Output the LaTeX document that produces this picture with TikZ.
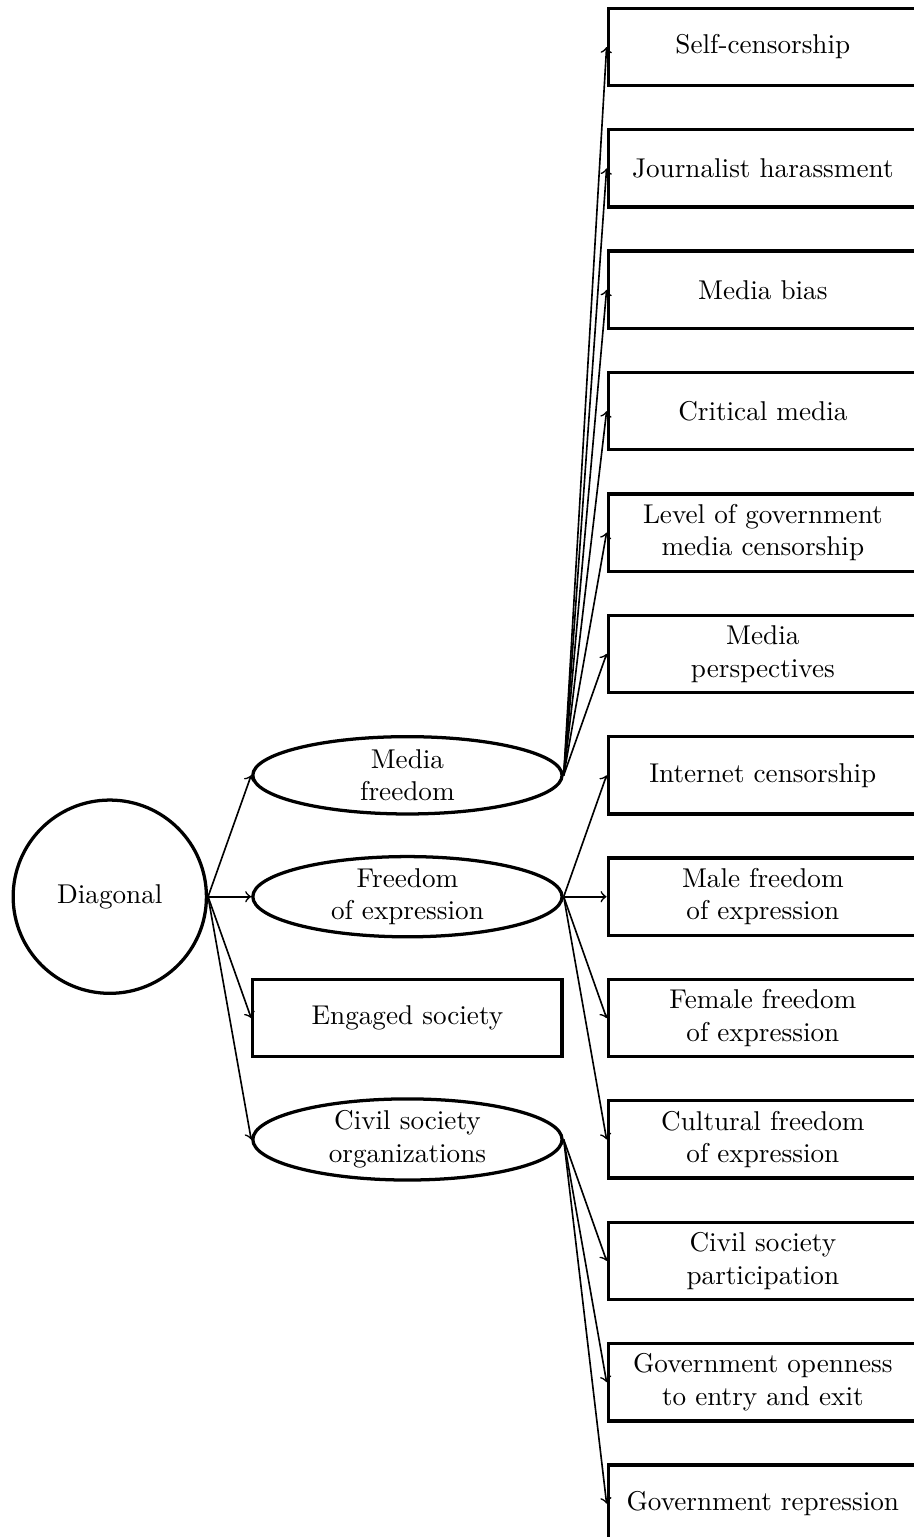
\documentclass[tikz,border=0pt]{standalone}
\usetikzlibrary{shapes,arrows}

\begin{document}
\begin{tikzpicture}
\tikzstyle{box}=[rectangle, draw, very thick, minimum width=4cm, minimum height=1cm, align=center]
\tikzstyle{oval}=[ellipse, draw, very thick, minimum width=4cm, minimum height=1cm,
                        inner sep=0pt, align=center]
\tikzstyle{arr}=[->, semithick]
\useasboundingbox (0,0) rectangle (11.82,-19.88);
\node[circle, draw, very thick, minimum size=2.5cm] (D) at (1.42,-11.598) {Diagonal};
\node[oval] (MF) at (5.27,-10.028) {Media\\freedom};
\node[oval] (FE) at (5.27,-11.598) {Freedom\\of expression};
\node[box] (ES) at (5.27,-13.168) {Engaged society};
\node[oval] (CS) at (5.27,-14.738) {Civil society\\organizations};
%right column
\node[box] (SC) at (9.867,-0.608) {Self-censorship};
\node[box] (JH) at (9.867,-2.178) {Journalist harassment};
\node[box] (MB) at (9.867,-3.748) {Media bias};
\node[box] (CM) at (9.867,-5.318) {Critical media};
\node[box] (GC) at (9.867,-6.888) {Level of government\\media censorship};
\node[box] (MP) at (9.867,-8.458) {Media\\perspectives};
\node[box] (IC) at (9.867,-10.028) {Internet censorship};
\node[box] (MA) at (9.867,-11.598) {Male freedom\\of expression};
\node[box] (FM) at (9.867,-13.168) {Female freedom\\of expression};
\node[box] (CF) at (9.867,-14.738) {Cultural freedom\\of expression};
\node[box] (CP) at (9.867,-16.308) {Civil society\\participation};
\node[box] (GO) at (9.867,-17.878) {Government openness\\to entry and exit};
\node[box] (GR) at (9.867,-19.448) {Government repression};
\foreach \i/\j in {D/MF,D/FE,D/ES,D/CS,MF/SC,MF/JH,MF/MB,MF/CM,MF/GC,MF/MP,FE/IC,FE/MA,FE/FM,FE/CF,CS/CP,CS/GO,CS/GR}{\draw[arr] (\i.east) -- (\j.west);}
\end{tikzpicture}
\end{document}
